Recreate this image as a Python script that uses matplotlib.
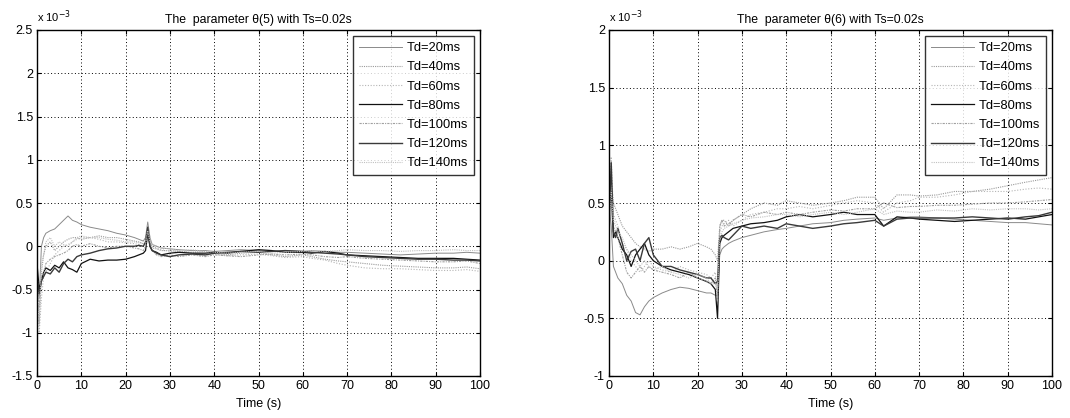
import matplotlib
matplotlib.use("Agg")
import matplotlib.pyplot as plt

plt.rcParams['font.family'] = ['Liberation Sans', 'DejaVu Sans']

time_s = [0, 0.5, 1, 1.5, 2, 3, 4, 5, 6, 7, 8, 9, 10, 12, 14, 16, 18, 20, 22, 23, 24, 24.5, 25, 25.5,
          26, 27, 28, 30, 32, 35, 38, 40, 43, 46, 50, 53, 56, 60, 62, 65, 68, 70, 74, 78, 82, 86, 90,
          94, 97, 100]

labels = ['Td=20ms', 'Td=40ms', 'Td=60ms', 'Td=80ms', 'Td=100ms', 'Td=120ms', 'Td=140ms']

# theta(5), units of 1e-3
theta5_td20 = [-0.3, -0.6, 0.0, 0.1, 0.15, 0.18, 0.2, 0.25, 0.3, 0.35, 0.3, 0.28, 0.25, 0.22, 0.2, 0.18,
               0.15, 0.13, 0.1, 0.08, 0.06, 0.1, 0.28, 0.1, 0.02, 0.0, -0.02, -0.03, -0.04, -0.05, -0.05,
               -0.06, -0.05, -0.04, -0.05, -0.06, -0.05, -0.06, -0.05, -0.06, -0.07, -0.07, -0.08, -0.09,
               -0.1, -0.09, -0.08, -0.08, -0.07, -0.08]
theta5_td40 = [-0.4, -0.9, -0.3, -0.1, 0.0, 0.05, -0.05, 0.0, 0.05, 0.08, 0.1, 0.1, 0.08, 0.1, 0.12, 0.1,
               0.1, 0.08, 0.06, 0.05, 0.03, 0.05, 0.2, 0.05, -0.02, -0.03, -0.05, -0.05, -0.06, -0.07,
               -0.06, -0.08, -0.1, -0.08, -0.07, -0.1, -0.12, -0.1, -0.12, -0.15, -0.17, -0.18, -0.2,
               -0.22, -0.23, -0.24, -0.25, -0.25, -0.24, -0.26]
theta5_td60 = [-0.5, -1.0, -0.6, -0.35, -0.3, -0.2, -0.1, -0.05, 0.0, 0.02, 0.05, 0.08, 0.1, 0.1, 0.08,
               0.05, 0.05, 0.04, 0.03, 0.02, 0.0, 0.05, 0.25, 0.1, 0.0, -0.02, -0.04, -0.06, -0.05, -0.08,
               -0.1, -0.09, -0.11, -0.1, -0.09, -0.11, -0.13, -0.12, -0.14, -0.16, -0.2, -0.22, -0.25,
               -0.26, -0.26, -0.27, -0.28, -0.28, -0.27, -0.29]
theta5_td80 = [-0.2, -0.5, -0.4, -0.3, -0.25, -0.28, -0.22, -0.25, -0.18, -0.25, -0.27, -0.3, -0.2, -0.15,
               -0.17, -0.16, -0.16, -0.15, -0.12, -0.1, -0.08, -0.05, 0.15, 0.0, -0.05, -0.07, -0.1,
               -0.08, -0.07, -0.08, -0.08, -0.07, -0.08, -0.06, -0.04, -0.05, -0.07, -0.07, -0.08, -0.06,
               -0.08, -0.1, -0.11, -0.12, -0.13, -0.14, -0.14, -0.14, -0.15, -0.16]
theta5_td100 = [-0.3, -0.7, -0.35, -0.3, -0.2, -0.15, -0.12, -0.1, -0.08, -0.05, 0.0, 0.02, 0.0, 0.03,
                0.0, -0.02, 0.0, 0.0, -0.02, -0.03, -0.05, 0.0, 0.2, 0.05, -0.05, -0.1, -0.12, -0.1,
                -0.12, -0.1, -0.12, -0.1, -0.11, -0.12, -0.1, -0.09, -0.1, -0.09, -0.1, -0.12, -0.13,
                -0.12, -0.14, -0.15, -0.16, -0.17, -0.18, -0.18, -0.17, -0.2]
theta5_td120 = [-0.35, -0.55, -0.4, -0.35, -0.3, -0.32, -0.25, -0.3, -0.2, -0.15, -0.18, -0.12, -0.1,
                -0.08, -0.05, -0.03, -0.02, 0.0, 0.0, 0.01, 0.0, 0.05, 0.22, 0.0, -0.05, -0.08, -0.1,
                -0.12, -0.1, -0.09, -0.1, -0.08, -0.07, -0.06, -0.07, -0.06, -0.05, -0.06, -0.07, -0.08,
                -0.09, -0.1, -0.12, -0.13, -0.14, -0.15, -0.15, -0.16, -0.16, -0.17]
theta5_td140 = [-0.4, -0.8, -0.2, -0.1, 0.05, 0.1, 0.0, 0.05, 0.02, 0.0, 0.05, 0.1, 0.12, 0.1, 0.1, 0.08,
                0.07, 0.05, 0.05, 0.04, 0.03, 0.05, 0.18, 0.05, 0.02, 0.0, -0.02, -0.03, -0.05, -0.04,
                -0.06, -0.07, -0.08, -0.07, -0.06, -0.08, -0.07, -0.06, -0.05, -0.06, -0.05, -0.04,
                -0.05, -0.05, -0.06, -0.05, -0.05, -0.04, -0.05, -0.05]

# theta(6), units of 1e-3
theta6_td20 = [0.5, 0.3, -0.05, -0.1, -0.15, -0.2, -0.3, -0.35, -0.45, -0.47, -0.4, -0.35, -0.32, -0.28,
               -0.25, -0.23, -0.24, -0.26, -0.28, -0.28, -0.3, -0.3, 0.05, 0.1, 0.12, 0.15, 0.17, 0.2,
               0.22, 0.25, 0.27, 0.28, 0.3, 0.32, 0.33, 0.35, 0.36, 0.37, 0.35, 0.37, 0.38, 0.38, 0.37,
               0.36, 0.35, 0.34, 0.33, 0.33, 0.32, 0.31]
theta6_td40 = [0.6, 0.7, 0.5, 0.45, 0.4, 0.3, 0.25, 0.2, 0.15, 0.12, 0.1, 0.08, 0.1, 0.1, 0.12, 0.1, 0.12,
               0.15, 0.12, 0.1, 0.05, 0.0, 0.3, 0.35, 0.35, 0.3, 0.35, 0.4, 0.45, 0.5, 0.48, 0.52, 0.5,
               0.48, 0.5, 0.52, 0.55, 0.55, 0.45, 0.57, 0.57, 0.56, 0.57, 0.6, 0.6, 0.62, 0.65, 0.68, 0.7,
               0.72]
theta6_td60 = [0.5, 0.9, 0.4, 0.35, 0.3, 0.15, 0.1, 0.0, -0.05, -0.1, -0.05, 0.0, -0.05, -0.08, -0.1,
               -0.05, -0.08, -0.1, -0.12, -0.15, -0.1, -0.3, 0.25, 0.3, 0.32, 0.35, 0.3, 0.35, 0.4, 0.42,
               0.45, 0.45, 0.47, 0.45, 0.48, 0.5, 0.52, 0.5, 0.42, 0.5, 0.52, 0.55, 0.55, 0.57, 0.6, 0.6,
               0.6, 0.62, 0.63, 0.62]
theta6_td80 = [0.4, 0.6, 0.2, 0.25, 0.2, 0.1, 0.05, -0.05, 0.05, 0.1, 0.15, 0.05, 0.0, -0.05, -0.08, -0.1,
               -0.12, -0.15, -0.18, -0.2, -0.25, -0.5, 0.15, 0.2, 0.22, 0.25, 0.28, 0.3, 0.32, 0.33, 0.35,
               0.38, 0.4, 0.38, 0.4, 0.42, 0.4, 0.4, 0.3, 0.38, 0.37, 0.36, 0.35, 0.34, 0.35, 0.36, 0.37,
               0.36, 0.38, 0.4]
theta6_td100 = [0.4, 0.5, 0.3, 0.25, 0.2, 0.05, -0.1, -0.15, -0.1, -0.05, -0.1, -0.05, -0.08, -0.1, -0.12,
                -0.15, -0.1, -0.15, -0.18, -0.2, -0.15, -0.35, 0.3, 0.35, 0.3, 0.32, 0.35, 0.4, 0.38,
                0.42, 0.4, 0.42, 0.4, 0.42, 0.44, 0.43, 0.45, 0.45, 0.5, 0.46, 0.47, 0.47, 0.48, 0.48,
                0.49, 0.5, 0.5, 0.51, 0.52, 0.53]
theta6_td120 = [0.3, 0.85, 0.25, 0.2, 0.28, 0.15, 0.0, 0.08, 0.1, 0.0, 0.15, 0.2, 0.05, -0.05, -0.05,
                -0.08, -0.1, -0.12, -0.15, -0.15, -0.2, -0.18, 0.2, 0.22, 0.2, 0.18, 0.22, 0.3, 0.28, 0.3,
                0.28, 0.32, 0.3, 0.28, 0.3, 0.32, 0.33, 0.35, 0.3, 0.36, 0.37, 0.37, 0.37, 0.37, 0.38,
                0.37, 0.36, 0.38, 0.39, 0.42]
theta6_td140 = [0.3, 0.6, 0.35, 0.3, 0.25, 0.2, 0.1, 0.05, 0.0, -0.05, 0.0, -0.05, -0.08, -0.05, -0.1,
                -0.12, -0.15, -0.12, -0.15, -0.2, -0.2, -0.25, 0.2, 0.25, 0.28, 0.3, 0.32, 0.35, 0.37,
                0.38, 0.4, 0.4, 0.38, 0.4, 0.42, 0.4, 0.42, 0.45, 0.4, 0.43, 0.42, 0.42, 0.44, 0.43, 0.45,
                0.44, 0.45, 0.45, 0.44, 0.45]

theta5 = [theta5_td20, theta5_td40, theta5_td60, theta5_td80, theta5_td100, theta5_td120, theta5_td140]
theta6 = [theta6_td20, theta6_td40, theta6_td60, theta6_td80, theta6_td100, theta6_td120, theta6_td140]

styles = [
    dict(color='#8a8a8a', ls='-', lw=0.7),
    dict(color='#9a9a9a', ls=(0, (1, 1)), lw=0.8),
    dict(color='#b5b5b5', ls=(0, (1, 1.5)), lw=0.8),
    dict(color='#111111', ls='-', lw=0.9),
    dict(color='#a0a0a0', ls=(0, (2, 1, 1, 1)), lw=0.8),
    dict(color='#3a3a3a', ls='-', lw=1.0),
    dict(color='#c0c0c0', ls=(0, (1, 1)), lw=0.8),
]

fig = plt.figure(figsize=(10.70, 4.18), dpi=100)
ax1 = fig.add_axes([37 / 1070, 1 - 376 / 418, 443 / 1070, 346 / 418])
ax2 = fig.add_axes([609 / 1070, 1 - 376 / 418, 443 / 1070, 346 / 418])

configs = [
    (ax1, theta5, 'The  parameter θ(5) with Ts=0.02s', (-1.5, 2.5), [-1.5, -1, -0.5, 0, 0.5, 1, 1.5, 2, 2.5]),
    (ax2, theta6, 'The  parameter θ(6) with Ts=0.02s', (-1, 2), [-1, -0.5, 0, 0.5, 1, 1.5, 2]),
]

for ax, series, title, ylim, yticks in configs:
    for vals, lab, st in zip(series, labels, styles):
        ax.plot(time_s, vals, label=lab, **st)
    ax.set_xlim(0, 100)
    ax.set_ylim(*ylim)
    ax.set_xticks(range(0, 101, 10))
    ax.set_yticks(yticks)
    ax.set_yticklabels([('%g' % v) for v in yticks])
    ax.grid(True, color='black', ls=(0, (1, 2.5)), lw=0.7)
    ax.tick_params(direction='in', top=True, right=True, length=3, labelsize=9, pad=3)
    for sp in ax.spines.values():
        sp.set_linewidth(1.0)
    ax.set_title(title, fontsize=8.8, pad=5)
    ax.set_xlabel('Time (s)', fontsize=9, labelpad=4)
    ax.text(0.0, 1.015, 'x 10$^{-3}$', transform=ax.transAxes, fontsize=8, ha='left', va='bottom')
    leg = ax.legend(loc='upper right', fontsize=9.3, frameon=True, fancybox=False,
                    edgecolor='black', handlelength=3.4, labelspacing=0.55,
                    borderaxespad=0.5, handletextpad=0.3, borderpad=0.45)
    leg.get_frame().set_linewidth(1.0)

fig.savefig('out.png', dpi=100)
